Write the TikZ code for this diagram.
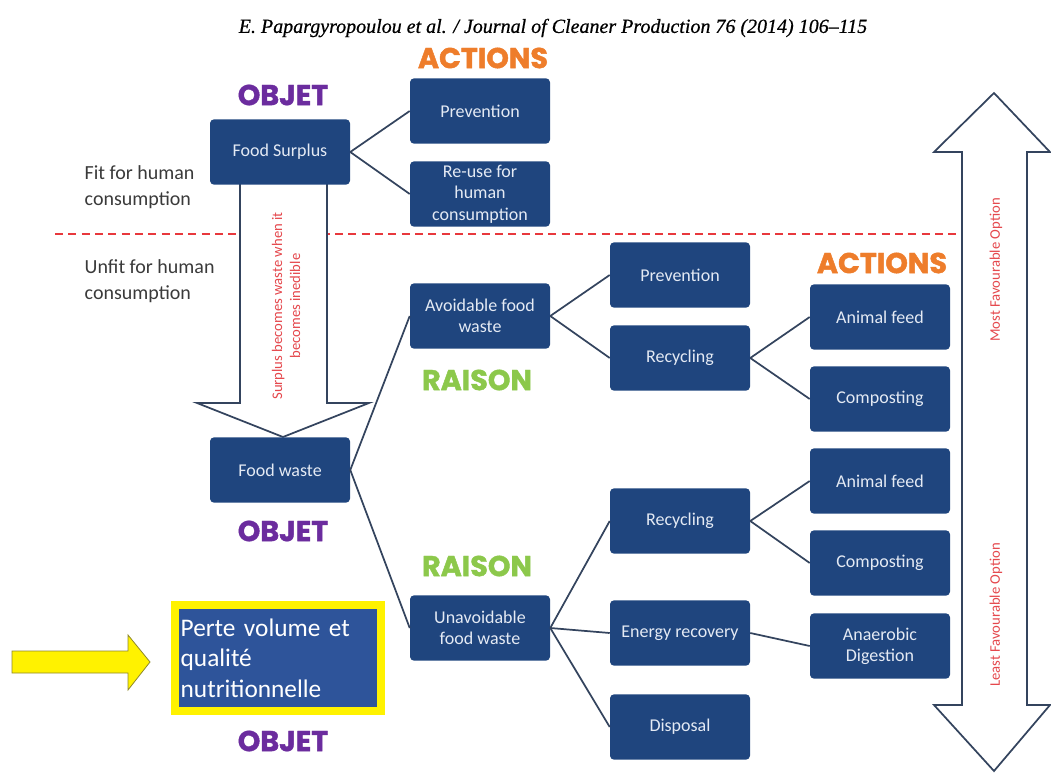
\documentclass[tikz,border=0pt]{standalone}
\usepackage{fontspec}
\setmainfont{Carlito}
\newfontfamily\headfont{Poppins}[BoldFeatures={FakeBold=1.5}]
\newfontfamily\journalfont{Liberation Serif}[ItalicFeatures={FakeBold=0.6}]
\definecolor{navy}{HTML}{1F457E}
\definecolor{boxtext}{HTML}{E4EAF4}
\definecolor{linkgray}{HTML}{34445E}
\definecolor{actorange}{HTML}{EE7D2B}
\definecolor{objpurple}{HTML}{6B2C9E}
\definecolor{raisongreen}{HTML}{8CC84B}
\definecolor{dashred}{HTML}{E8383D}
\definecolor{optred}{HTML}{E5484D}
\definecolor{pertenavy}{HTML}{2E549A}
\definecolor{sidegray}{HTML}{3A3A3A}
\begin{document}
\begin{tikzpicture}[x=0.75pt,y=-0.75pt]
        \tikzset{box/.style = {shape=rectangle,rounded corners=3pt,fill=navy,text=boxtext,minimum width=105pt,minimum height=49pt,align=center,inner sep=1pt,font=\fontsize{13.5}{16}\selectfont}}
        \tikzset{link/.style = {draw=linkgray,line width=1.3pt}}
        \tikzset{title/.style = {font=\headfont\bfseries\fontsize{21.5}{24}\selectfont}}
        \tikzset{side/.style = {anchor=west,align=left,text=sidegray,font=\fontsize{15}{19.5}\selectfont}}
        \tikzset{optext/.style = {rotate=90,align=center,text=optred,font=\fontsize{11}{13.5}\selectfont}}
        \tikzset{fatarrow/.style = {fill=white,draw=linkgray,line width=1.3pt,line join=miter}}
        \useasboundingbox (0,0) rectangle (1051,775);
        % journal line
        \node[font=\journalfont\itshape\fontsize{15}{17}\selectfont] (ref) at (553,28) {E. Papargyropoulou et al. / Journal of Cleaner Production 76 (2014) 106–115};
        % side labels and the dashed limit
        \node[side] (fit) at (80,187) {Fit for human\\consumption};
        \node[side] (unfit) at (80,281) {Unfit for human\\consumption};
        \draw[dashred,line width=2.2pt,dash pattern=on 6pt off 4pt] (55,234) -- (963,234);
        % surplus to waste arrow
        \draw[fatarrow] (240,180) -- (240,403) -- (197,403) -- (283,437) -- (369,403) -- (327,403) -- (327,180) -- cycle;
        \node[optext] (inedible) at (286,306) {Surplus becomes waste when it\\becomes inedible};
        % favourable option arrow
        \draw[fatarrow] (994,93) -- (1050,152) -- (1027,152) -- (1027,705) -- (1050,705) -- (994,771) -- (934,705) -- (962,705) -- (962,152) -- (934,152) -- cycle;
        \node[optext] (most) at (996,270) {Most Favourable Option};
        \node[optext] (least) at (996,615) {Least Favourable Option};
        % boxes on the left
        \node[box] (surplus) at (280,152) {Food Surplus};
        \node[box] (waste) at (280,470) {Food waste};
        % fit for human consumption
        \node[box] (prevA) at (480,111) {Prevention};
        \node[box] (reuse) at (480,194) {Re-use for\\human\\consumption};
        % unfit for human consumption
        \node[box] (avoid) at (480,316) {Avoidable food\\waste};
        \node[box] (unavoid) at (480,628) {Unavoidable\\food waste};
        \node[box] (prevB) at (680,275) {Prevention};
        \node[box] (recycA) at (680,358) {Recycling};
        \node[box] (recycB) at (680,521) {Recycling};
        \node[box] (energy) at (680,633) {Energy recovery};
        \node[box] (disposal) at (680,727) {Disposal};
        \node[box] (feedA) at (880,317) {Animal feed};
        \node[box] (compA) at (880,399) {Composting};
        \node[box] (feedB) at (880,481) {Animal feed};
        \node[box] (compB) at (880,563) {Composting};
        \node[box] (anaer) at (880,646) {Anaerobic\\Digestion};
        % edges
        \draw[link] (surplus.east) -- (prevA.west);
        \draw[link] (surplus.east) -- (reuse.west);
        \draw[link] (waste.east) -- (avoid.west);
        \draw[link] (waste.east) -- (unavoid.west);
        \draw[link] (avoid.east) -- (prevB.west);
        \draw[link] (avoid.east) -- (recycA.west);
        \draw[link] (recycA.east) -- (feedA.west);
        \draw[link] (recycA.east) -- (compA.west);
        \draw[link] (unavoid.east) -- (recycB.west);
        \draw[link] (unavoid.east) -- (energy.west);
        \draw[link] (unavoid.east) -- (disposal.west);
        \draw[link] (recycB.east) -- (feedB.west);
        \draw[link] (recycB.east) -- (compB.west);
        \draw[link] (energy.east) -- (anaer.west);
        % titles
        \node[title,text=actorange] (actA) at (483,58) {ACTIONS};
        \node[title,text=actorange] (actB) at (882,263) {ACTIONS};
        \node[title,text=objpurple] (objA) at (283,95) {OBJET};
        \node[title,text=objpurple] (objB) at (283,531) {OBJET};
        \node[title,text=objpurple] (objC) at (283,741) {OBJET};
        \node[title,text=raisongreen] (raiA) at (477,380) {RAISON};
        \node[title,text=raisongreen] (raiB) at (477,566) {RAISON};
        % added note
        \draw[fill=yellow,draw=olive!70!gray,line width=0.6pt] (12,651) -- (128,651) -- (128,635) -- (150,662) -- (128,690) -- (128,673) -- (12,673) -- cycle;
        \node[fill=pertenavy,draw=yellow,line width=6pt,minimum width=154pt,minimum height=80pt,text width=146pt,inner sep=2pt,align=left,text=white,font=\fontsize{19}{23}\selectfont] (perte) at (278,658) {Perte volume et\\qualité\\nutritionnelle};
\end{tikzpicture}
\end{document}
